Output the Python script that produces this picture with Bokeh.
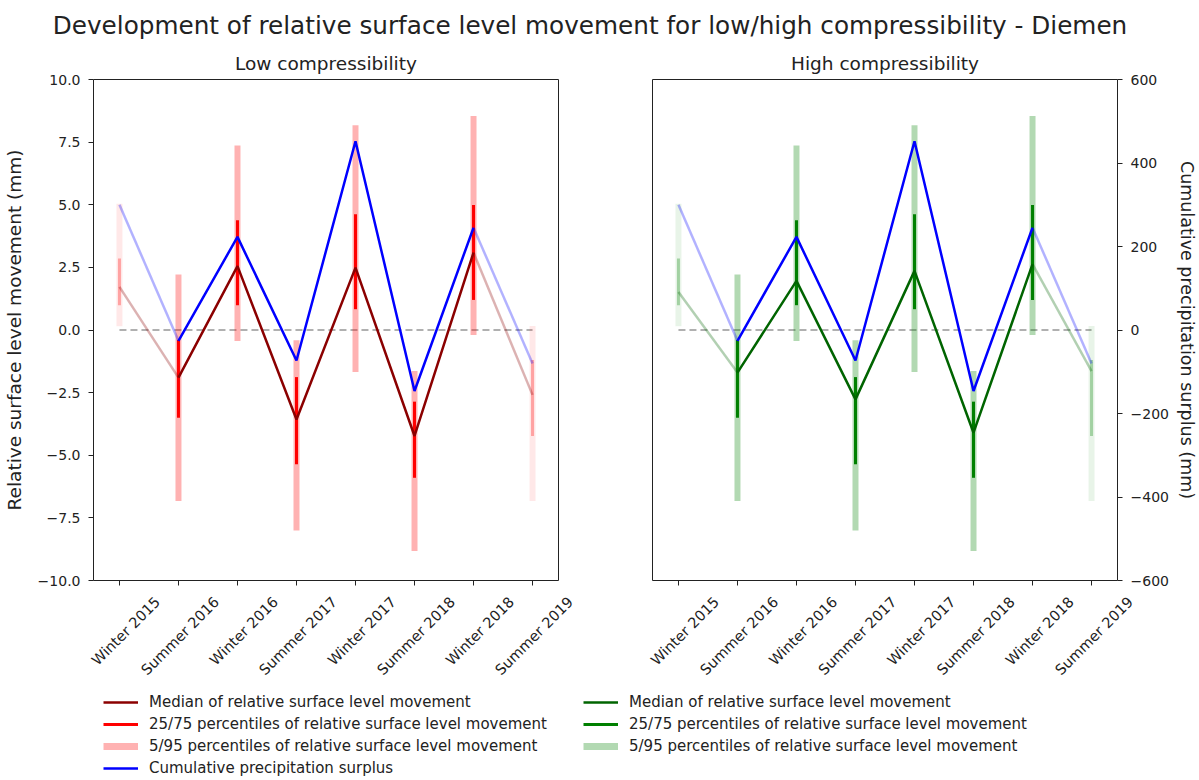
from math import pi
from bokeh.plotting import figure
from bokeh.models import (Range1d, LinearAxis, FixedTicker, CustomJSTickFormatter,
                          ColumnDataSource, Legend, LegendItem, Label)
from bokeh.layouts import column, row
from bokeh.embed import file_html
from bokeh.resources import INLINE
from bokeh.core.properties import value

# ---------------- data ----------------
periods = ["Winter 2015", "Summer 2016", "Winter 2016", "Summer 2017",
           "Winter 2017", "Summer 2018", "Winter 2018", "Summer 2019"]

precip_surplus = [300, -26, 223, -73, 452, -146, 245, -80]

low_median = [1.72, -1.90, 2.55, -3.57, 2.49, -4.23, 3.09, -2.59]
low_p25 = [0.99, -3.50, 0.99, -5.36, 0.83, -5.90, 1.20, -4.23]
low_p75 = [2.85, -0.40, 4.38, -1.88, 4.62, -2.86, 4.99, -1.20]
low_p05 = [0.15, -6.83, -0.44, -8.00, -1.68, -8.82, -0.20, -6.83]
low_p95 = [5.04, 2.22, 7.37, -0.41, 8.17, -1.64, 8.54, 0.16]

high_median = [1.52, -1.70, 1.96, -2.77, 2.36, -4.10, 2.63, -1.64]
high_p25 = [0.99, -3.50, 0.99, -5.36, 0.83, -5.90, 1.20, -4.23]
high_p75 = [2.85, -0.40, 4.38, -1.88, 4.62, -2.86, 4.99, -1.20]
high_p05 = [0.15, -6.83, -0.44, -8.00, -1.68, -8.82, -0.20, -6.83]
high_p95 = [5.04, 2.22, 7.37, -0.41, 8.17, -1.64, 8.54, 0.16]

left_ticks = [-10.0, -7.5, -5.0, -2.5, 0.0, 2.5, 5.0, 7.5, 10.0]
left_tick_labels = ["\u221210.0", "\u22127.5", "\u22125.0", "\u22122.5", "0.0",
                    "2.5", "5.0", "7.5", "10.0"]
right_ticks = [-600, -400, -200, 0, 200, 400, 600]
right_tick_labels = ["\u2212600", "\u2212400", "\u2212200", "0", "200", "400", "600"]

main_title = ("Development of relative surface level movement for "
              "low/high compressibility - Diemen")
legend_labels = ["Median of relative surface level movement",
                 "25/75 percentiles of relative surface level movement",
                 "5/95 percentiles of relative surface level movement",
                 "Cumulative precipitation surplus"]

# ---------------- layout / styling ----------------
FONT = "DejaVu Sans"
TXT = "#222222"
W1, W2 = 575, 624          # panel figure widths
S1, S2 = 581, 618          # label/legend strip widths
TITLE_H = 43
FRAME_TOP = 36
FRAME_H = 501
TICK_H = 10
H = FRAME_TOP + FRAME_H + TICK_H          # panel figure height
BH = 780 - TITLE_H - H                    # height of the label/legend strip
n = len(periods)
x_idx = list(range(n))
X_PAD = 0.44
LABEL_DX = 38          # rotated category label: end of text right of its tick (px)
LABEL_GAP = 9          # ... and below the strip's top edge (px)
edge_alpha = [0.3 if i in (0, n - 1) else 1.0 for i in x_idx]


def label_formatter(tvals, tlabels):
    return CustomJSTickFormatter(
        args=dict(tv=tvals, tl=tlabels),
        code="const i = tv.indexOf(tick); return i >= 0 ? tl[i] : '';")


def style_axis(ax):
    ax.axis_line_color = None
    ax.major_tick_in = 0
    ax.major_tick_out = 5
    ax.major_tick_line_color = TXT
    ax.minor_tick_line_color = None
    ax.major_label_text_font = FONT
    ax.major_label_text_font_size = "14px"
    ax.major_label_text_color = TXT
    ax.axis_label_text_font = FONT
    ax.axis_label_text_font_style = "normal"
    ax.axis_label_text_color = TXT


def make_panel(title, median, p25, p75, p05, p95, dark, mid, width, mbl, mbr,
               left_labels, right_axis):
    p = figure(width=width, height=H, toolbar_location=None, output_backend="svg",
               x_range=Range1d(-X_PAD, n - 1 + X_PAD), y_range=Range1d(-10, 10),
               x_axis_location=None, y_axis_location=None,
               min_border_left=mbl, min_border_right=mbr,
               min_border_top=FRAME_TOP, min_border_bottom=TICK_H)
    p.extra_y_ranges = {"precip": Range1d(-600, 600)}
    p.xgrid.visible = False
    p.ygrid.visible = False
    p.outline_line_color = "#222222"
    p.outline_line_width = 1
    p.background_fill_color = "white"
    p.border_fill_color = "white"

    p.title.text = title
    p.title.align = "center"
    p.title.text_font = FONT
    p.title.text_font_size = "18.5px"
    p.title.text_font_style = "normal"
    p.title.text_color = TXT
    p.title.standoff = 11

    # x axis ticks (labels are drawn rotated in the strip below)
    xt = LinearAxis(ticker=FixedTicker(ticks=x_idx), formatter=CustomJSTickFormatter(code="return '';"))
    style_axis(xt)
    xt.major_label_text_color = None
    xt.major_label_standoff = 0
    p.add_layout(xt, "below")

    if left_labels:
        ya = LinearAxis(ticker=FixedTicker(ticks=left_ticks),
                        formatter=label_formatter(left_ticks, left_tick_labels))
        style_axis(ya)
        ya.major_label_standoff = 8
        ya.axis_label = "Relative surface level movement (mm)"
        ya.axis_label_text_font_size = "18.5px"
        ya.axis_label_standoff = 10
        p.add_layout(ya, "left")

    if right_axis:
        ra = LinearAxis(y_range_name="precip", ticker=FixedTicker(ticks=right_ticks),
                        formatter=label_formatter(right_ticks, right_tick_labels))
        style_axis(ra)
        ra.major_label_standoff = 8
        ra.axis_label = "Cumulative precipitation surplus (mm)"
        ra.axis_label_text_font_size = "17.5px"
        ra.axis_label_standoff = 5
        p.add_layout(ra, "right")

    # zero reference line
    p.segment(x0=x_idx[0], y0=0, x1=x_idx[-1], y1=0, line_color="#b0b0b0",
              line_width=2, line_dash="7 4")

    src = ColumnDataSource(dict(x=x_idx, p05=p05, p95=p95, p25=p25, p75=p75,
                                a_out=[0.3 * a for a in edge_alpha], a_in=edge_alpha))
    p.segment(x0="x", x1="x", y0="p05", y1="p95", source=src,
              line_color=mid, line_alpha="a_out", line_width=6)
    p.segment(x0="x", x1="x", y0="p25", y1="p75", source=src,
              line_color=mid, line_alpha="a_in", line_width=3)

    # median: faded first and last segments
    p.line(x_idx[:2], median[:2], line_color=dark, line_alpha=0.3, line_width=2.5)
    p.line(x_idx[1:n - 1], median[1:n - 1], line_color=dark, line_width=2.5)
    p.line(x_idx[n - 2:], median[n - 2:], line_color=dark, line_alpha=0.3, line_width=2.5)

    # precipitation surplus (twin axis)
    p.line(x_idx[:2], precip_surplus[:2], line_color="blue", line_alpha=0.3,
           line_width=2.5, y_range_name="precip")
    p.line(x_idx[1:n - 1], precip_surplus[1:n - 1], line_color="blue",
           line_width=2.5, y_range_name="precip")
    p.line(x_idx[n - 2:], precip_surplus[n - 2:], line_color="blue", line_alpha=0.3,
           line_width=2.5, y_range_name="precip")
    return p


def make_strip(width, mbl, mbr, frame_w, median, dark, mid, leg_dx, with_precip):
    """Strip under a panel: rotated category labels (same x scale) and the legend."""
    ppu = frame_w / (n - 1 + 2 * X_PAD)
    b = figure(width=width, height=BH, toolbar_location=None, output_backend="svg",
               x_range=Range1d(-X_PAD - mbl / ppu, n - 1 + X_PAD + mbr / ppu),
               y_range=Range1d(0, BH), x_axis_location=None, y_axis_location=None,
               min_border=0)
    b.extra_y_ranges = {"off": Range1d(10000, 10001)}   # legend proxies stay out of view
    b.xgrid.visible = False
    b.ygrid.visible = False
    b.outline_line_color = None

    b.text(x=x_idx, y=BH - LABEL_GAP, text=periods, angle=pi / 4, x_offset=LABEL_DX,
           text_align="right", text_baseline="middle", text_font=value(FONT),
           text_font_size="14.5px", text_color=TXT)

    r_med = b.line(x_idx, median, line_color=dark, line_width=2.5, y_range_name="off")
    r_in = b.line(x_idx, median, line_color=mid, line_width=3, y_range_name="off")
    r_out = b.line(x_idx, median, line_color=mid, line_alpha=0.3, line_width=7,
                   y_range_name="off")
    items = [LegendItem(label=legend_labels[0], renderers=[r_med]),
             LegendItem(label=legend_labels[1], renderers=[r_in]),
             LegendItem(label=legend_labels[2], renderers=[r_out])]
    if with_precip:
        r_b = b.line(x_idx, precip_surplus, line_color="blue", line_width=2.5,
                     y_range_name="off")
        items.append(LegendItem(label=legend_labels[3], renderers=[r_b]))
    k = len(items)
    leg_h = k * 20 + (k - 1) * 2
    leg_top = 692 - (TITLE_H + H)          # legend top, px below the strip's top
    leg = Legend(items=items, location=(leg_dx, BH - leg_top - leg_h), padding=0,
                 spacing=2, margin=0, label_height=20, glyph_height=20, glyph_width=35,
                 label_standoff=11, label_text_font=FONT, label_text_font_size="15px",
                 label_text_color=TXT, border_line_color=None, background_fill_alpha=0)
    b.add_layout(leg)
    return b


# frames: left panel x 93..558, right panel x 652..1118 (page pixels)
p1 = make_panel("Low compressibility", low_median, low_p25, low_p75, low_p05, low_p95,
                "darkred", "red", W1, 93, W1 - 558, True, False)
p2 = make_panel("High compressibility", high_median, high_p25, high_p75, high_p05,
                high_p95, "darkgreen", "green", W2, 652 - W1, W1 + W2 - 1118, False, True)
b1 = make_strip(S1, 93, S1 - 558, 558 - 93, low_median, "darkred", "red", 103, True)
b2 = make_strip(S2, 652 - S1, S1 + S2 - 1118, 1118 - 652, high_median, "darkgreen",
                "green", 583 - S1, False)

t = figure(width=W1 + W2, height=TITLE_H, toolbar_location=None, output_backend="svg",
           x_range=Range1d(0, 1), y_range=Range1d(0, 1),
           x_axis_location=None, y_axis_location=None, min_border=0)
t.xgrid.visible = False
t.ygrid.visible = False
t.outline_line_color = None
t.add_layout(Label(x=589.5, y=TITLE_H - 25, x_units="screen", y_units="screen",
                   text=main_title, text_align="center", text_baseline="middle",
                   text_font=FONT, text_font_size="24.7px", text_color=TXT))

layout = column(t, row(p1, p2), row(b1, b2))
open("out.html", "w").write(file_html(layout, INLINE))
